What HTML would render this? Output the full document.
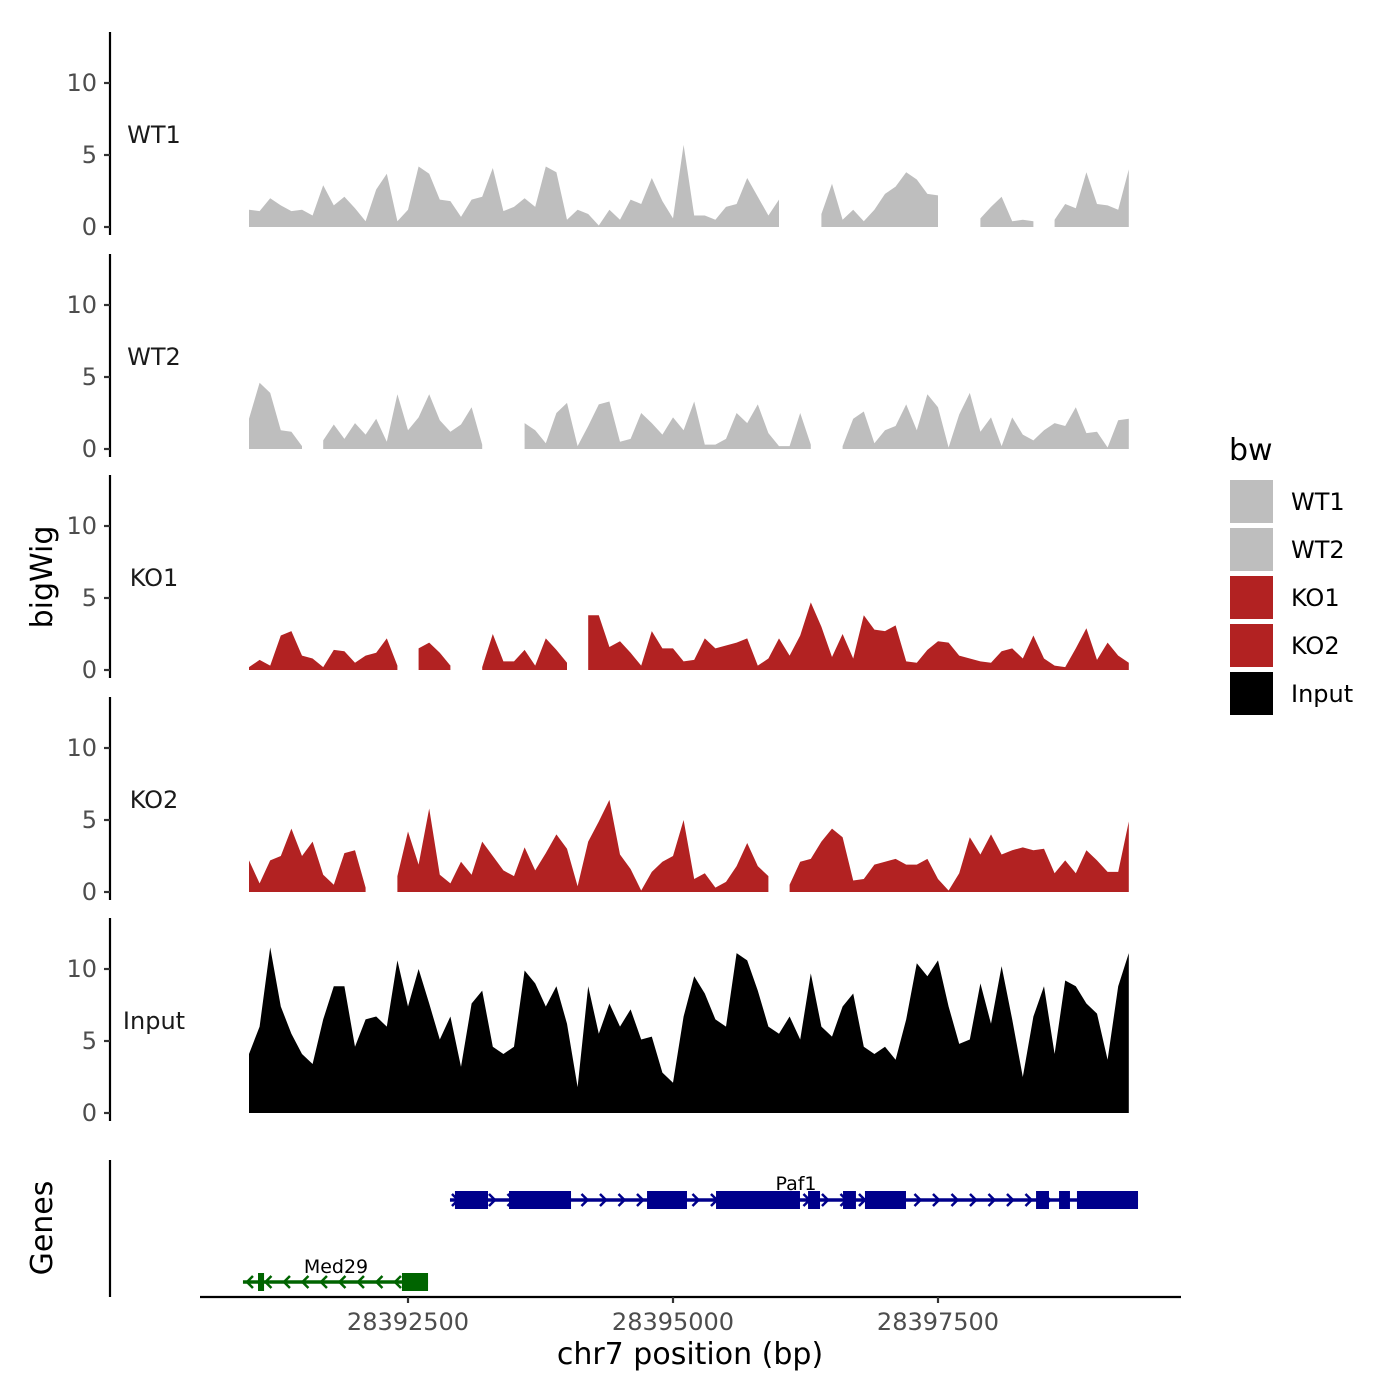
<!DOCTYPE html>
<html><head><meta charset="utf-8">
<style>
html,body{margin:0;padding:0;background:#fff;}
svg{display:block;font-family:"DejaVu Sans","Liberation Sans",sans-serif;}
</style></head>
<body>
<svg id="chart" width="1400" height="1400" viewBox="0 0 1400 1400" xmlns="http://www.w3.org/2000/svg"></svg>
<script>
// ---- data ----
const startBp = 28391000;
const stepBp = 100;
const trackNames = ["WT1","WT2","KO1","KO2","Input"];
const trackColors = ["#bebebe","#bebebe","#b22222","#b22222","#000000"];
const wt1 = [1.2,1.1,2.0,1.5,1.1,1.2,0.8,2.9,1.5,2.1,1.3,0.4,2.6,3.7,0.4,1.2,4.2,3.7,1.9,1.8,0.7,1.9,2.1,4.1,1.1,1.4,2.0,1.4,4.2,3.8,0.5,1.2,0.9,0.1,1.2,0.5,1.9,1.6,3.4,1.8,0.6,5.7,0.8,0.8,0.5,1.4,1.6,3.4,2.1,0.8,1.9,null,null,null,0.9,3.0,0.5,1.2,0.4,1.2,2.3,2.8,3.8,3.3,2.3,2.2,null,null,null,0.6,1.4,2.1,0.4,0.5,0.4,null,0.5,1.6,1.3,3.8,1.6,1.5,1.2,4.0];
const wt2 = [2.1,4.6,3.9,1.3,1.2,0.2,null,0.6,1.7,0.7,1.8,1.0,2.1,0.5,3.8,1.3,2.2,3.8,2.0,1.2,1.7,2.9,0.3,null,null,null,1.8,1.3,0.4,2.5,3.2,0.2,1.6,3.1,3.3,0.5,0.7,2.5,1.8,1.0,2.2,1.3,3.3,0.3,0.3,0.7,2.5,1.8,3.1,1.1,0.2,0.2,2.5,0.3,null,null,0.2,2.1,2.6,0.4,1.3,1.6,3.1,1.3,3.8,2.9,0.1,2.4,3.9,1.2,2.2,0.2,2.2,1.0,0.6,1.3,1.8,1.6,2.9,1.1,1.2,0.1,2.0,2.1];
const ko1 = [0.2,0.7,0.3,2.4,2.7,1.0,0.8,0.2,1.4,1.3,0.5,1.0,1.2,2.2,0.3,null,1.5,1.9,1.2,0.3,null,null,0.2,2.5,0.6,0.6,1.4,0.3,2.2,1.4,0.5,null,3.8,3.8,1.6,2.0,1.2,0.3,2.7,1.5,1.5,0.6,0.7,2.2,1.5,1.7,1.9,2.2,0.3,0.8,2.2,1.0,2.4,4.7,3.0,0.9,2.5,0.8,3.8,2.8,2.7,3.1,0.6,0.5,1.4,2.0,1.9,1.0,0.8,0.6,0.5,1.3,1.5,0.8,2.4,0.8,0.3,0.2,1.5,2.9,0.7,1.9,1.0,0.5];
const ko2 = [2.2,0.6,2.2,2.5,4.4,2.5,3.5,1.2,0.5,2.7,2.9,0.3,null,null,1.1,4.2,1.9,5.8,1.2,0.6,2.1,1.2,3.5,2.5,1.5,1.1,3.1,1.5,2.7,4.0,3.0,0.4,3.5,4.9,6.4,2.6,1.6,0.1,1.4,2.1,2.5,5.0,0.9,1.3,0.3,0.7,1.8,3.4,1.8,1.1,null,0.5,2.1,2.3,3.5,4.4,3.8,0.8,0.9,1.9,2.1,2.3,1.9,1.9,2.3,0.9,0.1,1.3,3.8,2.6,4.0,2.6,2.9,3.1,2.9,3.0,1.3,2.2,1.3,2.9,2.2,1.4,1.4,4.9];
const input = [4.1,6.0,11.5,7.4,5.5,4.1,3.4,6.5,8.8,8.8,4.6,6.5,6.7,6.0,10.6,7.4,10.0,7.6,5.1,6.7,3.2,7.6,8.5,4.6,4.1,4.6,9.9,9.0,7.4,8.8,6.2,1.8,8.8,5.5,7.6,6.0,7.2,5.1,5.3,2.8,2.1,6.7,9.5,8.3,6.5,6.0,11.1,10.6,8.5,6.0,5.5,6.7,5.1,9.7,6.0,5.3,7.4,8.3,4.6,4.1,4.6,3.7,6.5,10.4,9.5,10.6,7.4,4.8,5.1,9.0,6.2,10.2,6.5,2.5,6.7,8.8,4.1,9.2,8.8,7.6,6.9,3.7,8.8,11.1];
const trackValues = [wt1,wt2,ko1,ko2,input];
const yTicks = [0,5,10];
const xTicks = [28392500,28395000,28397500];
const xTickLabels = ["28392500","28395000","28397500"];
const paf1Start = 28392896, paf1End = 28399387;
const paf1ExonStarts = [28392943,28393453,28394755,28395406,28396274,28396604,28396811,28398425,28398642,28398811];
const paf1ExonEnds   = [28393255,28394038,28395132,28396198,28396387,28396726,28397198,28398547,28398745,28399387];
const med29Start = 28390943, med29End = 28392689;
const med29ExonStarts = [28391085,28392443];
const med29ExonEnds   = [28391142,28392689];

// ---- scales ----
const xS = bp => 408 + (bp - 28392500) * 0.106;
const baselines = [227,449,670,892,1113];
const yS = (v, t) => baselines[t] - v * 14.4;

const NS = "http://www.w3.org/2000/svg";
const svg = document.getElementById('chart');
function mk(tag, attrs, parent){ const e=document.createElementNS(NS,tag); for(const k in attrs) e.setAttribute(k,attrs[k]); (parent||svg).appendChild(e); return e; }

// tracks
trackNames.forEach((name, t) => {
  const g = mk('g', {});
  
  
  const top = baselines[t] - 195;
  const ax = mk('line', {x1:110,y1:top,x2:110,y2:baselines[t]+8,stroke:'#000','stroke-width':2.2}, g);
  
  
  yTicks.forEach(v => {
    const y = yS(v, t);
    mk('line', {x1:104,y1:y,x2:110,y2:y,stroke:'#333','stroke-width':2.2}, g);
    const tx = mk('text', {x:97,y:y+8,'text-anchor':'end','font-size':24,fill:'#4d4d4d'}, g);
    tx.textContent = v;
    
    
  });
  const lbl = mk('text', {x:154,y:baselines[t]-84,'text-anchor':'middle','font-size':24,fill:'#1a1a1a'}, g);
  lbl.textContent = name;
  
  
  const vals = trackValues[t];
  let seg = [];
  const flush = () => {
    if (seg.length) {
      const x0 = xS(seg[0][0]), x1 = xS(seg[seg.length-1][0]);
      let d = 'M' + x0 + ',' + baselines[t];
      seg.forEach(p => { d += 'L' + xS(p[0]) + ',' + yS(p[1], t); });
      d += 'L' + x1 + ',' + baselines[t] + 'Z';
      const p = mk('path', {d:d, fill:trackColors[t]}, g);
      
      
    }
    seg = [];
  };
  vals.forEach((v, i) => { if (v === null) flush(); else seg.push([startBp + i*stepBp, v]); });
  flush();
});

// y title
const yt = mk('text', {x:0,y:0,'text-anchor':'middle','font-size':30,fill:'#000',transform:'translate(52,577) rotate(-90)'});
yt.textContent = 'bigWig';



// genes panel
const gt = mk('text', {x:0,y:0,'text-anchor':'middle','font-size':30,fill:'#000',transform:'translate(52,1228) rotate(-90)'});
gt.textContent = 'Genes';


const gax = mk('line', {x1:110,y1:1160,x2:110,y2:1297,stroke:'#000','stroke-width':2.2});


const xax = mk('line', {x1:200,y1:1297,x2:1181,y2:1297,stroke:'#000','stroke-width':2.2});


xTicks.forEach((bp, i) => {
  const x = xS(bp);
  mk('line', {x1:x,y1:1297,x2:x,y2:1303,stroke:'#333','stroke-width':2.2});
  const tx = mk('text', {x:x,y:1330,'text-anchor':'middle','font-size':24,fill:'#4d4d4d'});
  tx.textContent = xTickLabels[i];
  
  
});
const xt = mk('text', {x:690,y:1364,'text-anchor':'middle','font-size':30,fill:'#000'});
xt.textContent = 'chr7 position (bp)';



function drawGene(name, s, e, starts, ends, y, color, dir, labelX, labelY) {
  const g = mk('g', {});
  
  
  mk('line', {x1:xS(s),y1:y,x2:xS(e),y2:y,stroke:color,'stroke-width':3.5}, g);
  for (let x = xS(s) + 6; x < xS(e) - 4; x += 18.5) {
    const d = dir > 0 ? `M${x-4},${y-6}L${x+2},${y}L${x-4},${y+6}` : `M${x+4},${y-6}L${x-2},${y}L${x+4},${y+6}`;
    mk('path', {d:d, stroke:color, 'stroke-width':2.5, fill:'none'}, g);
  }
  starts.forEach((st, i) => {
    const r = mk('rect', {x:xS(st),y:y-9,width:xS(ends[i])-xS(st),height:18,fill:color}, g);
    
    
  });
  const t = mk('text', {x:labelX,y:labelY,'text-anchor':'middle','font-size':19,fill:'#000'}, g);
  t.textContent = name;
  
  
}
drawGene('Paf1', paf1Start, paf1End, paf1ExonStarts, paf1ExonEnds, 1200, '#00008b', 1, 796, 1190);
drawGene('Med29', med29Start, med29End, med29ExonStarts, med29ExonEnds, 1282, '#006400', -1, 336, 1273);

// legend
const lg = mk('g', {});


const lt = mk('text', {x:1229,y:460,'font-size':30,fill:'#000'}, lg);
lt.textContent = 'bw';


trackNames.forEach((name, i) => {
  const y = 480 + i*48;
  const r = mk('rect', {x:1230,y:y,width:43,height:43,fill:trackColors[i]}, lg);
  
  
  const t = mk('text', {x:1291,y:y+30,'font-size':24,fill:'#000'}, lg);
  t.textContent = name;
  
  
});
</script>
</body></html>
